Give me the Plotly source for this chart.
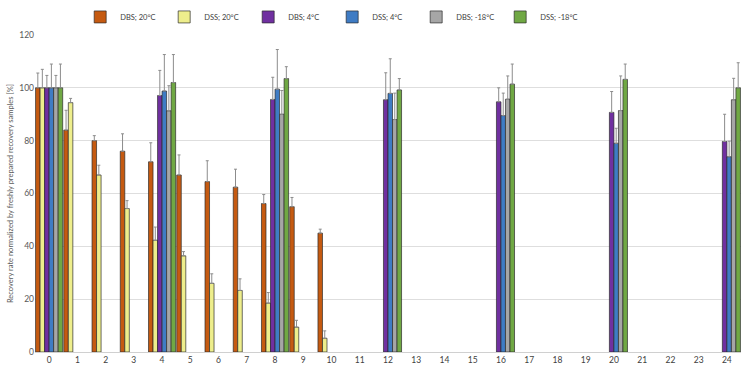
import plotly.graph_objects as go

weeks = list(range(25))
tick_labels = [str(w) for w in weeks]

series_names = ["DBS; 20°C", "DSS; 20°C", "DBS; 4°C", "DSS; 4°C", "DBS; -18°C", "DSS; -18°C"]
colors = ["#C55A11", "#EEEE8C", "#7030A0", "#3F7CC4", "#A6A6A6", "#70A844"]

def at(d):
    return [d.get(w) for w in weeks]

dbs20 = {0: 100, 1: 84, 2: 80, 3: 76, 4: 72, 5: 67, 6: 64.5, 7: 62.4, 8: 56.2, 9: 55, 10: 45}
dbs20_err = {0: 5.6, 1: 7.5, 2: 1.9, 3: 6.6, 4: 7.2, 5: 7.6, 6: 7.9, 7: 6.8, 8: 3.4, 9: 3.5, 10: 1.5}
dss20 = {0: 100, 1: 94.4, 2: 67, 3: 54.3, 4: 42.3, 5: 36.4, 6: 26, 7: 23.3, 8: 18.5, 9: 9.4, 10: 5.2}
dss20_err = {0: 7, 1: 1.6, 2: 3.7, 3: 3, 4: 5, 5: 1.6, 6: 3.6, 7: 4.4, 8: 4, 9: 2.6, 10: 2.8}
dbs4 = {0: 100, 4: 97.1, 8: 95.6, 12: 95.5, 16: 94.7, 20: 90.7, 24: 79.7}
dbs4_err = {0: 4.7, 4: 9.5, 8: 8.4, 12: 10.2, 16: 5.3, 20: 7.9, 24: 10.3}
dss4 = {0: 100, 4: 98.8, 8: 99.5, 12: 97.9, 16: 89.5, 20: 79, 24: 73.9}
dss4_err = {0: 9, 4: 13.8, 8: 15, 12: 13.1, 16: 8.5, 20: 5.7, 24: 5.9}
dbsm18 = {0: 100, 4: 91.3, 8: 90, 12: 88, 16: 95.7, 20: 91.4, 24: 95.5}
dbsm18_err = {0: 4.7, 4: 9.5, 8: 9, 12: 10, 16: 8.8, 20: 13.1, 24: 8.1}
dssm18 = {0: 100, 4: 102, 8: 103.5, 12: 99.2, 16: 101.4, 20: 103.2, 24: 100}
dssm18_err = {0: 9, 4: 10.6, 8: 4.5, 12: 4.3, 16: 7.6, 20: 5.8, 24: 9.5}

values = [dbs20, dss20, dbs4, dss4, dbsm18, dssm18]
errors = [dbs20_err, dss20_err, dbs4_err, dss4_err, dbsm18_err, dssm18_err]

FONT = "Lato, 'Liberation Sans', sans-serif"

fig = go.Figure()
for name, col, v, e in zip(series_names, colors, values, errors):
    fig.add_trace(go.Bar(
        x=weeks, y=at(v), name=name,
        marker=dict(color=col, line=dict(color="rgba(40,40,40,0.85)", width=0.8)),
        error_y=dict(type="data", symmetric=False, array=at(e),
                     arrayminus=[0 if w in e else None for w in weeks],
                     color="#8c8c8c", thickness=1, width=1.5),
    ))

fig.update_layout(
    width=743, height=377,
    margin=dict(l=35, r=2, t=31, b=25),
    paper_bgcolor="white", plot_bgcolor="white",
    barmode="group", bargap=0.04, bargroupgap=0,
    font=dict(family=FONT, size=8, color="#595959"),
    showlegend=True,
    legend=dict(orientation="h", x=0.064, y=1.057, xanchor="left", yanchor="middle",
                entrywidth=39, entrywidthmode="pixels",
                font=dict(size=7.5, color="#404040"), itemwidth=30,
                tracegroupgap=0,
                bgcolor="rgba(0,0,0,0)"),
    xaxis=dict(range=[-0.5, 24.5], tickmode="array", tickvals=weeks, ticktext=tick_labels,
               showgrid=False, showline=True, linecolor="#d0d0d0", linewidth=1,
               ticks="", tickfont=dict(size=8.5, color="#404040"), zeroline=False),
    yaxis=dict(range=[0, 120], tickvals=[0, 20, 40, 60, 80, 100, 120],
               showgrid=True, gridcolor="#dedede", gridwidth=1, zeroline=False,
               showline=False, ticks="", tickfont=dict(size=8.5, color="#595959"),
               title=dict(text="Recovery rate normalized by freshly prepared recovery samples [%]",
                          font=dict(size=7.5, color="#595959"), standoff=4)),
    annotations=[dict(text="Storage time [weeks]", xref="paper", yref="paper",
                      x=0.5, y=-0.072, xanchor="center", yanchor="top", showarrow=False,
                      font=dict(size=8, color="#595959"))],
)

fig.write_html("out.html")
